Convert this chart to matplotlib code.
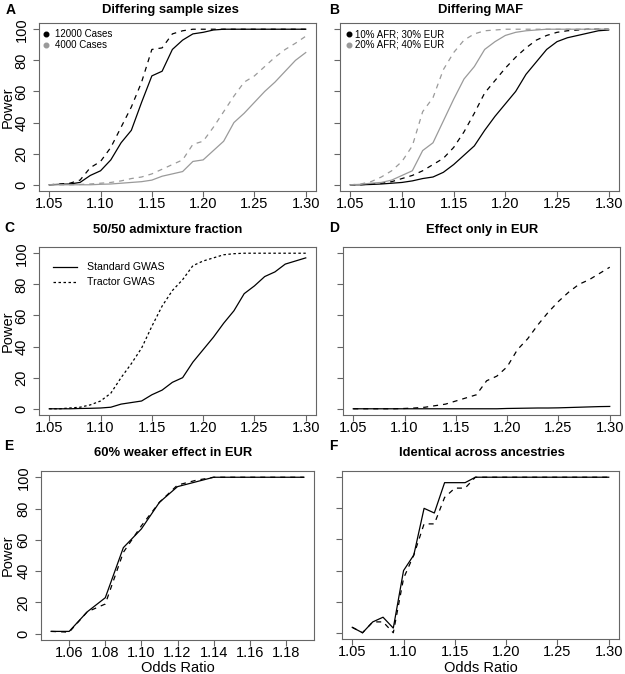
import numpy as np
import matplotlib.pyplot as plt

plt.rcParams['font.family'] = ['Liberation Sans', 'DejaVu Sans']

# odds ratios
orA = np.round(np.arange(1.05, 1.305, 0.01), 2)
orE = np.round(np.arange(1.05, 1.195, 0.01), 2)

# A: differing sample sizes (solid = standard, dashed = tractor)
a12k_std = [0, 0.3, 0.5, 1.5, 6, 9, 16, 27, 35, 53, 70, 73, 87, 93, 97, 98, 99.5, 100, 100, 100, 100, 100, 100, 100, 100, 100]
a12k_tra = [0, 0.5, 1, 3, 11, 15, 24, 37, 50, 66, 87, 88, 97, 99, 100, 100, 100, 100, 100, 100, 100, 100, 100, 100, 100, 100]
a4k_std = [0, 0, 0, 0, 0, 0.3, 0.5, 1, 1.5, 2, 3, 5.5, 7, 8.5, 15, 16, 22, 28, 40, 46, 53, 60, 66, 73, 80, 85]
a4k_tra = [0, 0, 0, 0.2, 0.5, 1, 1.5, 2.5, 4, 5, 7, 10, 13, 16, 26, 28, 37, 47, 57, 66, 70, 76, 82, 87, 91, 95.5]

# B: differing MAF
b10_std = [0, 0, 0.2, 0.5, 1, 1.5, 2.5, 4, 5, 8, 13, 19, 25, 35, 44, 52, 60, 71, 79, 87, 92, 94.5, 96, 97.5, 99, 99.5]
b10_tra = [0, 0, 0.5, 1, 2, 4, 6, 9, 13, 17, 24, 34, 46, 59, 67, 75, 82, 88, 93, 96, 98, 99, 99.5, 100, 100, 100]
b20_std = [0, 0.3, 1, 1.5, 3, 6, 9, 22, 27, 41, 55, 68, 76, 87, 92, 96, 98, 99, 99.5, 100, 100, 100, 100, 100, 100, 100]
b20_tra = [0, 0.5, 2, 5, 9, 15, 25, 47, 56, 74, 85, 93, 97, 99, 99.5, 100, 100, 100, 100, 100, 100, 100, 100, 100, 100, 100]

# C: 50/50 admixture fraction
c_std = [0, 0, 0, 0.2, 0.3, 0.5, 1, 3, 4, 5, 9, 12, 17, 20, 30, 38, 46, 55, 63, 74, 79, 85, 88, 93, 95, 97]
c_tra = [0, 0, 0.5, 1, 2.5, 5, 10, 20, 29, 39, 53, 66, 76, 83, 92, 95, 97, 99, 99.7, 100, 100, 100, 100, 100, 100, 100]

# D: effect only in EUR
d_std = [0, 0, 0, 0, 0, 0, 0, 0, 0, 0, 0, 0, 0, 0, 0, 0.2, 0.3, 0.4, 0.5, 0.5, 0.6, 0.8, 1, 1.2, 1.4, 1.5]
d_tra = [0, 0, 0, 0, 0, 0.2, 0.5, 1, 2, 3, 5, 7, 9, 18, 21, 27, 38, 45, 54, 62, 69, 75, 80, 83, 87, 91]

# E: 60% weaker effect in EUR
e_std = [1.5, 1.5, 14, 23, 55, 67, 84, 94, 97, 100, 100, 100, 100, 100, 100]
e_tra = [1.5, 1, 14, 19, 52, 69, 84, 95, 98, 100, 100, 100, 100, 100, 100]

# F: identical across ancestries
f_std = [3.5, 0, 7, 10, 3, 40, 50, 80, 77, 96.5, 96.5, 96.5, 100, 100, 100, 100, 100, 100, 100, 100, 100, 100, 100, 100, 100, 100]
f_tra = [3.5, 0, 7, 7, 0, 35, 50, 70, 70, 87, 93, 93, 100, 100, 100, 100, 100, 100, 100, 100, 100, 100, 100, 100, 100, 100]

GREY = '#9a9a9a'
DASH = (0, (4, 4))
DOT = (0, (2, 2))

fig = plt.figure(figsize=(6.25, 6.74), dpi=100)
W, H = 625, 674

# panel boxes in pixels: left, top, right, bottom
boxes = {
    'A': [39, 23, 316, 191],
    'B': [340, 23, 619, 191],
    'C': [39, 247, 316, 415],
    'D': [343, 247, 620, 415],
    'E': [41, 471, 314, 640],
    'F': [342, 471, 619, 639],
}
titles = {
    'A': ('Differing sample sizes', 170, 10),
    'B': ('Differing MAF', 481, 10),
    'C': ('50/50 admixture fraction', 168, 230),
    'D': ('Effect only in EUR', 482, 230),
    'E': ('60% weaker effect in EUR', 173, 453),
    'F': ('Identical across ancestries', 482, 453),
}
letters = {'A': (11, 10), 'B': (334, 10), 'C': (9, 228), 'D': (334, 228), 'E': (9, 446), 'F': (333, 446)}

axes = {}
for k, (l, t, r, b) in boxes.items():
    ax = fig.add_axes([l / W, 1 - b / H, (r - l) / W, (b - t) / H])
    axes[k] = ax
    for s in ax.spines.values():
        s.set_color('#666666')
        s.set_linewidth(0.8)
    ax.tick_params(direction='out', length=4.5, width=0.8, color='#666666', labelsize=10.5)
    ax.tick_params(axis='x', pad=0)
    ax.tick_params(axis='y', pad=3)
    ax.set_ylim(-4, 104)
    ax.set_yticks([0, 20, 40, 60, 80, 100])
    if k in 'ACE':
        ax.set_ylabel('Power', fontsize=10.5)
        ax.yaxis.set_label_coords((15 - l) / (r - l), 0.5)
        for lab in ax.get_yticklabels():
            lab.set_rotation(90)
            lab.set_va('center')
    else:
        ax.set_yticklabels([])
    if k == 'E':
        ax.set_xlim(1.05 - 0.0056, 1.19 + 0.0056)
        ax.set_xticks(np.round(np.arange(1.06, 1.185, 0.02), 2))
        ax.set_xticklabels(['%.2f' % v for v in np.arange(1.06, 1.185, 0.02)])
    else:
        ax.set_xlim(1.04, 1.31)
        ax.set_xticks([1.05, 1.10, 1.15, 1.20, 1.25, 1.30])
        ax.set_xticklabels(['1.05', '1.10', '1.15', '1.20', '1.25', '1.30'])
    if k in 'EF':
        ax.set_xlabel('Odds Ratio', fontsize=10.5)
        ax.xaxis.set_label_coords(0.5, (b - 661) / (b - t))
    name, tx, ty = titles[k]
    fig.text(tx / W, 1 - ty / H, name, ha='center', va='center', fontsize=9.4, fontweight='bold')
    lx, ly = letters[k]
    fig.text(lx / W, 1 - ly / H, k, ha='center', va='center', fontsize=10, fontweight='bold')

lw = 0.9

def dot_legend(ax, labels, colors, x_dot, x_txt, ys):
    for lab, c, y in zip(labels, colors, ys):
        ax.plot([x_dot], [y], 'o', ms=3.3, color=c, transform=ax.transAxes, clip_on=False)
        ax.text(x_txt, y, lab, transform=ax.transAxes, fontsize=7.0, va='center', ha='left')

ax = axes['A']
ax.plot(orA, a12k_std, color='black', lw=lw)
ax.plot(orA, a12k_tra, color='black', lw=lw, ls=DASH)
ax.plot(orA, a4k_std, color=GREY, lw=lw)
ax.plot(orA, a4k_tra, color=GREY, lw=lw, ls=DASH)
dot_legend(ax, ['12000 Cases', '4000 Cases'], ['black', GREY], 0.027, 0.058, [0.932, 0.872])

ax = axes['B']
ax.plot(orA, b10_std, color='black', lw=lw)
ax.plot(orA, b10_tra, color='black', lw=lw, ls=DASH)
ax.plot(orA, b20_std, color=GREY, lw=lw)
ax.plot(orA, b20_tra, color=GREY, lw=lw, ls=DASH)
dot_legend(ax, ['10% AFR; 30% EUR', '20% AFR; 40% EUR'], ['black', GREY], 0.032, 0.054, [0.932, 0.872])

ax = axes['C']
ax.plot(orA, c_std, color='black', lw=lw)
ax.plot(orA, c_tra, color='black', lw=lw, ls=DOT)
for lab, ls, y in [('Standard GWAS', '-', 0.881), ('Tractor GWAS', DOT, 0.792)]:
    ax.plot([0.05, 0.137], [y, y], color='black', lw=lw, ls=ls, transform=ax.transAxes)
    ax.text(0.173, y, lab, transform=ax.transAxes, fontsize=7.6, va='center', ha='left')

ax = axes['D']
ax.plot(orA, d_std, color='black', lw=lw)
ax.plot(orA, d_tra, color='black', lw=lw, ls=DASH)

ax = axes['E']
ax.plot(orE, e_std, color='black', lw=lw)
ax.plot(orE, e_tra, color='black', lw=lw, ls=DASH)

ax = axes['F']
ax.plot(orA, f_std, color='black', lw=lw)
ax.plot(orA, f_tra, color='black', lw=lw, ls=DASH)

fig.savefig('out.png', dpi=100)
